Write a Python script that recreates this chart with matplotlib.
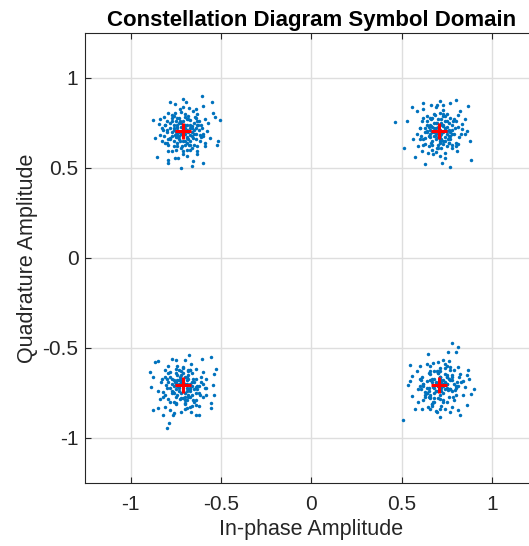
import matplotlib
matplotlib.use("Agg")
import matplotlib.pyplot as plt

plt.rcParams['font.family'] = ['Liberation Sans', 'DejaVu Sans']

# Received symbols, one pair of lists per QPSK quadrant (outer points, then core)
ul_i = [-0.606, -0.781, -0.753, -0.707, -0.692, -0.551, -0.597, -0.637, -0.652, -0.505,
        -0.541, -0.532, -0.873, -0.839, -0.845, -0.817, -0.790, -0.725, -0.707, -0.679,
        -0.587, -0.569, -0.514, -0.523, -0.560, -0.587, -0.863, -0.836, -0.854, -0.790,
        -0.790, -0.753, -0.735, -0.722, -0.661, -0.652, -0.633, -0.633, -0.597, -0.689,
        -0.790, -0.771, -0.808, -0.827, -0.744, -0.725, -0.679, -0.652, -0.615, -0.606,
        -0.624, -0.762, -0.799, -0.827, -0.771, -0.744, -0.698, -0.670, -0.643, -0.633,
        -0.817, -0.781, -0.753, -0.670, -0.744, -0.725, -0.689, -0.661, -0.689, -0.716,
        -0.670, -0.707, -0.762, -0.615, -0.597, -0.578, -0.753, -0.771, -0.799, -0.808,
        -0.74, -0.72, -0.70, -0.68, -0.73, -0.66, -0.69, -0.75, -0.71, -0.64,
        -0.77, -0.72, -0.67, -0.70, -0.76, -0.65, -0.74, -0.69, -0.73, -0.66,
        -0.78, -0.62, -0.71, -0.68, -0.75, -0.64, -0.72, -0.79, -0.63, -0.76,
        -0.70, -0.67, -0.74, -0.71, -0.65, -0.78, -0.69, -0.61, -0.73, -0.80]
ul_q = [0.902, 0.869, 0.856, 0.884, 0.869, 0.869, 0.847, 0.828, 0.814, 0.764,
        0.805, 0.786, 0.768, 0.773, 0.746, 0.786, 0.805, 0.828, 0.841, 0.832,
        0.773, 0.749, 0.648, 0.630, 0.667, 0.621, 0.667, 0.685, 0.560, 0.547,
        0.529, 0.556, 0.556, 0.501, 0.510, 0.538, 0.593, 0.575, 0.529, 0.565,
        0.593, 0.597, 0.639, 0.648, 0.621, 0.648, 0.630, 0.667, 0.685, 0.722,
        0.740, 0.722, 0.713, 0.722, 0.759, 0.777, 0.786, 0.768, 0.781, 0.762,
        0.676, 0.667, 0.685, 0.685, 0.740, 0.759, 0.740, 0.731, 0.667, 0.621,
        0.602, 0.593, 0.648, 0.648, 0.676, 0.703, 0.805, 0.795, 0.759, 0.740,
        0.72, 0.69, 0.74, 0.70, 0.66, 0.72, 0.67, 0.70, 0.76, 0.69,
        0.68, 0.73, 0.65, 0.63, 0.74, 0.75, 0.64, 0.71, 0.75, 0.68,
        0.72, 0.71, 0.65, 0.77, 0.67, 0.66, 0.61, 0.66, 0.74, 0.62,
        0.69, 0.72, 0.69, 0.72, 0.63, 0.75, 0.60, 0.67, 0.78, 0.70]
ul_core_i = [-0.76, -0.73, -0.70, -0.67, -0.64, -0.61, -0.79, -0.75, -0.72, -0.69,
             -0.66, -0.63, -0.60, -0.81, -0.77, -0.74, -0.71, -0.68, -0.65, -0.62,
             -0.78, -0.75, -0.70, -0.67, -0.73, -0.69, -0.64, -0.80, -0.76, -0.71,
             -0.66, -0.74, -0.68, -0.63, -0.72, -0.77, -0.70, -0.65, -0.82, -0.59]
ul_core_q = [0.79, 0.68, 0.80, 0.63, 0.78, 0.74, 0.63, 0.60, 0.81, 0.64,
             0.70, 0.62, 0.69, 0.74, 0.78, 0.67, 0.58, 0.79, 0.71, 0.76,
             0.66, 0.76, 0.65, 0.74, 0.70, 0.77, 0.72, 0.64, 0.71, 0.68,
             0.61, 0.73, 0.66, 0.80, 0.75, 0.70, 0.72, 0.69, 0.71, 0.64]

ur_i = [0.464, 0.514, 0.532, 0.575, 0.630, 0.722, 0.768, 0.882, 0.878, 0.869,
        0.801, 0.768, 0.727, 0.694, 0.661, 0.621, 0.556, 0.584, 0.621, 0.713,
        0.823, 0.814, 0.851, 0.860, 0.851, 0.832, 0.814, 0.805, 0.777, 0.740,
        0.713, 0.676, 0.648, 0.611, 0.593, 0.565, 0.584, 0.602, 0.611, 0.639,
        0.661, 0.685, 0.713, 0.740, 0.768, 0.786, 0.795, 0.777, 0.759, 0.731,
        0.694, 0.661, 0.630, 0.639, 0.661, 0.694, 0.731, 0.749, 0.685, 0.713,
        0.630, 0.740, 0.801, 0.657, 0.832,
        0.69, 0.72, 0.74, 0.70, 0.67, 0.73, 0.68, 0.76, 0.71, 0.65,
        0.75, 0.69, 0.72, 0.66, 0.78, 0.70, 0.74, 0.63, 0.71, 0.67,
        0.77, 0.73, 0.68, 0.64, 0.76, 0.70, 0.62, 0.79, 0.66, 0.72,
        0.69, 0.75, 0.60, 0.73, 0.81, 0.67]
ur_q = [0.757, 0.609, 0.760, 0.563, 0.521, 0.530, 0.506, 0.545, 0.650, 0.843,
        0.880, 0.862, 0.852, 0.852, 0.852, 0.862, 0.838, 0.819, 0.830, 0.874,
        0.819, 0.797, 0.770, 0.705, 0.687, 0.742, 0.632, 0.595, 0.613, 0.586,
        0.567, 0.576, 0.586, 0.595, 0.622, 0.659, 0.687, 0.724, 0.760, 0.788,
        0.770, 0.797, 0.806, 0.788, 0.779, 0.760, 0.724, 0.687, 0.659, 0.632,
        0.613, 0.641, 0.668, 0.705, 0.733, 0.751, 0.733, 0.705, 0.678, 0.650,
        0.632, 0.558, 0.641, 0.687, 0.714,
        0.72, 0.69, 0.71, 0.67, 0.70, 0.74, 0.75, 0.68, 0.64, 0.73,
        0.73, 0.66, 0.77, 0.67, 0.71, 0.70, 0.65, 0.70, 0.74, 0.63,
        0.66, 0.70, 0.68, 0.76, 0.75, 0.61, 0.66, 0.69, 0.78, 0.66,
        0.69, 0.62, 0.72, 0.79, 0.73, 0.60]
ur_core_i = [0.61, 0.64, 0.67, 0.70, 0.73, 0.76, 0.79, 0.82, 0.65, 0.68,
             0.71, 0.74, 0.77, 0.80, 0.63, 0.66, 0.69, 0.72, 0.75, 0.78,
             0.62, 0.70, 0.74, 0.67, 0.71, 0.76, 0.68, 0.73, 0.65, 0.78,
             0.72, 0.69, 0.75, 0.64, 0.80, 0.71, 0.66, 0.74, 0.70, 0.77,
             0.60, 0.68, 0.73, 0.76, 0.83, 0.67, 0.71, 0.75, 0.62, 0.69]
ur_core_q = [0.68, 0.74, 0.78, 0.63, 0.80, 0.64, 0.77, 0.67, 0.62, 0.80,
             0.68, 0.76, 0.70, 0.62, 0.72, 0.71, 0.75, 0.61, 0.69, 0.74,
             0.78, 0.73, 0.67, 0.65, 0.69, 0.71, 0.72, 0.65, 0.68, 0.63,
             0.75, 0.59, 0.80, 0.70, 0.76, 0.66, 0.74, 0.72, 0.77, 0.68,
             0.66, 0.70, 0.82, 0.64, 0.69, 0.73, 0.71, 0.76, 0.63, 0.84]

ll_i = [-0.676, -0.773, -0.865, -0.847, -0.746, -0.700, -0.663, -0.602, -0.552, -0.529,
        -0.540, -0.543, -0.540, -0.552, -0.552, -0.621, -0.663, -0.635, -0.884, -0.874,
        -0.893, -0.838, -0.878, -0.847, -0.810, -0.782, -0.764, -0.786, -0.797, -0.718,
        -0.690, -0.746, -0.727, -0.792, -0.819, -0.801, -0.828, -0.810, -0.782, -0.746,
        -0.709, -0.672, -0.635, -0.598, -0.580, -0.608, -0.589, -0.617, -0.654, -0.681,
        -0.764, -0.755, -0.727, -0.654, -0.635, -0.672, -0.773, -0.700, -0.580, -0.819,
        -0.69, -0.72, -0.74, -0.70, -0.67, -0.73, -0.68, -0.76, -0.71, -0.65,
        -0.75, -0.69, -0.72, -0.66, -0.78, -0.70, -0.74, -0.63, -0.71, -0.67,
        -0.77, -0.73, -0.68, -0.64, -0.76, -0.70, -0.62, -0.79, -0.66, -0.72,
        -0.69, -0.75, -0.60, -0.81, -0.67, -0.73]
ll_q = [-0.538, -0.563, -0.578, -0.575, -0.569, -0.569, -0.587, -0.563, -0.551, -0.619,
        -0.643, -0.707, -0.762, -0.808, -0.836, -0.873, -0.854, -0.817, -0.716, -0.661,
        -0.633, -0.781, -0.845, -0.836, -0.827, -0.845, -0.873, -0.915, -0.946, -0.854,
        -0.836, -0.808, -0.781, -0.781, -0.744, -0.707, -0.670, -0.624, -0.633, -0.615,
        -0.606, -0.624, -0.615, -0.633, -0.670, -0.689, -0.725, -0.762, -0.790, -0.762,
        -0.744, -0.689, -0.661, -0.670, -0.716, -0.725, -0.670, -0.808, -0.762, -0.873,
        -0.72, -0.69, -0.71, -0.75, -0.70, -0.74, -0.67, -0.68, -0.64, -0.73,
        -0.77, -0.66, -0.78, -0.69, -0.72, -0.70, -0.65, -0.71, -0.74, -0.77,
        -0.75, -0.70, -0.73, -0.67, -0.80, -0.81, -0.75, -0.69, -0.64, -0.67,
        -0.79, -0.73, -0.70, -0.76, -0.83, -0.62]
ll_core_i = [-0.61, -0.64, -0.67, -0.70, -0.73, -0.76, -0.79, -0.82, -0.65, -0.68,
             -0.71, -0.74, -0.77, -0.80, -0.63, -0.66, -0.69, -0.72, -0.75, -0.78,
             -0.62, -0.70, -0.74, -0.67, -0.71, -0.76, -0.68, -0.73, -0.65, -0.78,
             -0.72, -0.69, -0.75, -0.64, -0.80, -0.71, -0.66, -0.74, -0.70, -0.77,
             -0.60, -0.68, -0.73, -0.76, -0.83, -0.67, -0.71, -0.75, -0.62, -0.69,
             -0.85, -0.58, -0.79, -0.64, -0.72, -0.66, -0.81, -0.70, -0.75, -0.68]
ll_core_q = [-0.66, -0.75, -0.62, -0.79, -0.68, -0.71, -0.64, -0.77, -0.80, -0.65,
             -0.69, -0.60, -0.74, -0.67, -0.73, -0.76, -0.70, -0.63, -0.81, -0.66,
             -0.71, -0.84, -0.68, -0.73, -0.61, -0.75, -0.77, -0.72, -0.69, -0.80,
             -0.65, -0.74, -0.70, -0.79, -0.72, -0.67, -0.82, -0.76, -0.66, -0.70,
             -0.77, -0.63, -0.71, -0.86, -0.69, -0.74, -0.78, -0.64, -0.82, -0.68,
             -0.74, -0.72, -0.60, -0.87, -0.75, -0.71, -0.66, -0.77, -0.69, -0.62]

lr_i = [0.777, 0.814, 0.755, 0.801, 0.644, 0.547, 0.510, 0.602, 0.639, 0.676,
        0.703, 0.731, 0.768, 0.814, 0.869, 0.874, 0.823, 0.851, 0.900, 0.887,
        0.860, 0.814, 0.823, 0.777, 0.740, 0.694, 0.648, 0.611, 0.575, 0.593,
        0.556, 0.538, 0.547, 0.556, 0.584, 0.611, 0.602, 0.630, 0.657, 0.676,
        0.713, 0.749, 0.786, 0.795, 0.805, 0.777, 0.740, 0.694, 0.657, 0.639,
        0.676, 0.749, 0.759, 0.841, 0.768, 0.713, 0.657, 0.621,
        0.70, 0.73, 0.72, 0.68, 0.74, 0.66, 0.71, 0.77, 0.69, 0.75,
        0.64, 0.70, 0.73, 0.67, 0.79, 0.71, 0.65, 0.76, 0.69, 0.72,
        0.62, 0.75, 0.68, 0.78, 0.66, 0.73, 0.70, 0.61, 0.80, 0.67,
        0.74, 0.69, 0.77, 0.63, 0.71, 0.82]
lr_q = [-0.475, -0.497, -0.521, -0.525, -0.534, -0.593, -0.902, -0.598, -0.589, -0.586,
        -0.580, -0.567, -0.608, -0.604, -0.622, -0.672, -0.644, -0.718, -0.727, -0.755,
        -0.819, -0.847, -0.874, -0.828, -0.838, -0.856, -0.828, -0.838, -0.838, -0.801,
        -0.764, -0.707, -0.681, -0.654, -0.626, -0.663, -0.709, -0.746, -0.773, -0.801,
        -0.782, -0.801, -0.773, -0.736, -0.690, -0.663, -0.644, -0.626, -0.644, -0.681,
        -0.718, -0.700, -0.736, -0.681, -0.856, -0.884, -0.626, -0.700,
        -0.71, -0.68, -0.74, -0.72, -0.70, -0.76, -0.66, -0.73, -0.69, -0.65,
        -0.75, -0.78, -0.71, -0.67, -0.70, -0.63, -0.72, -0.77, -0.74, -0.69,
        -0.71, -0.66, -0.80, -0.74, -0.68, -0.79, -0.64, -0.73, -0.72, -0.82,
        -0.61, -0.70, -0.68, -0.76, -0.84, -0.66]
lr_core_i = [0.62, 0.65, 0.68, 0.71, 0.74, 0.77, 0.80, 0.83, 0.64, 0.67,
             0.70, 0.73, 0.76, 0.79, 0.61, 0.66, 0.69, 0.72, 0.75, 0.78,
             0.63, 0.70, 0.74, 0.67, 0.71, 0.76, 0.68, 0.73, 0.65, 0.78,
             0.72, 0.69, 0.75, 0.64, 0.80, 0.71, 0.66, 0.74, 0.70, 0.77,
             0.60, 0.68, 0.73, 0.76, 0.84, 0.67, 0.71, 0.75, 0.62, 0.69,
             0.86, 0.59, 0.79, 0.65, 0.72, 0.66, 0.81, 0.70, 0.75, 0.68]
lr_core_q = [-0.70, -0.64, -0.78, -0.66, -0.73, -0.62, -0.76, -0.69, -0.72, -0.81,
             -0.63, -0.75, -0.67, -0.79, -0.68, -0.60, -0.74, -0.82, -0.70, -0.65,
             -0.77, -0.71, -0.59, -0.69, -0.76, -0.73, -0.63, -0.80, -0.74, -0.68,
             -0.72, -0.85, -0.66, -0.75, -0.71, -0.61, -0.78, -0.69, -0.64, -0.73,
             -0.67, -0.75, -0.70, -0.57, -0.76, -0.81, -0.66, -0.72, -0.79, -0.70,
             -0.65, -0.73, -0.62, -0.77, -0.68, -0.84, -0.71, -0.74, -0.60, -0.67]

# Ideal QPSK reference points
ref_i = [-0.7071, 0.7071, -0.7071, 0.7071]
ref_q = [0.7071, 0.7071, -0.7071, -0.7071]

ticks = [-1, -0.5, 0, 0.5, 1]
tick_labels = ['-1', '-0.5', '0', '0.5', '1']

fig = plt.figure(figsize=(5.29, 5.46), dpi=100)
ax = fig.add_axes([0.1613, 0.1154, 0.854, 0.8242])

blue = '#0072BD'
clusters = [(ul_i, ul_q), (ul_core_i, ul_core_q),
            (ur_i, ur_q), (ur_core_i, ur_core_q),
            (ll_i, ll_q), (ll_core_i, ll_core_q),
            (lr_i, lr_q), (lr_core_i, lr_core_q)]
for xi, yq in clusters:
    ax.plot(xi, yq, linestyle='none', marker='o', markersize=2.5,
            markeredgewidth=0, color=blue, zorder=3)

ax.plot(ref_i, ref_q, linestyle='none', marker='+', markersize=12,
        markeredgewidth=2.2, color='#FF0000', zorder=4)

ax.set_xlim(-1.25, 1.25)
ax.set_ylim(-1.25, 1.25)
ax.set_xticks(ticks)
ax.set_xticklabels(tick_labels)
ax.set_yticks(ticks)
ax.set_yticklabels(tick_labels)
ax.grid(True, color='#dedede', linewidth=1.0, zorder=0)
ax.set_axisbelow(True)
ax.tick_params(direction='in', length=4, width=0.8, top=True, right=True,
               labelsize=15, colors='#262626')
ax.tick_params(axis='x', pad=9)
ax.tick_params(axis='y', pad=5)
for s in ax.spines.values():
    s.set_linewidth(0.8)
    s.set_color('#262626')

ax.set_xlabel('In-phase Amplitude', fontsize=15.5, color='#262626', labelpad=3)
ax.set_ylabel('Quadrature Amplitude', fontsize=15.5, color='#262626', labelpad=3)
ax.set_title('Constellation Diagram Symbol Domain', fontsize=16,
             fontweight='bold', color='black', pad=5)

fig.savefig('out.png', dpi=100)
